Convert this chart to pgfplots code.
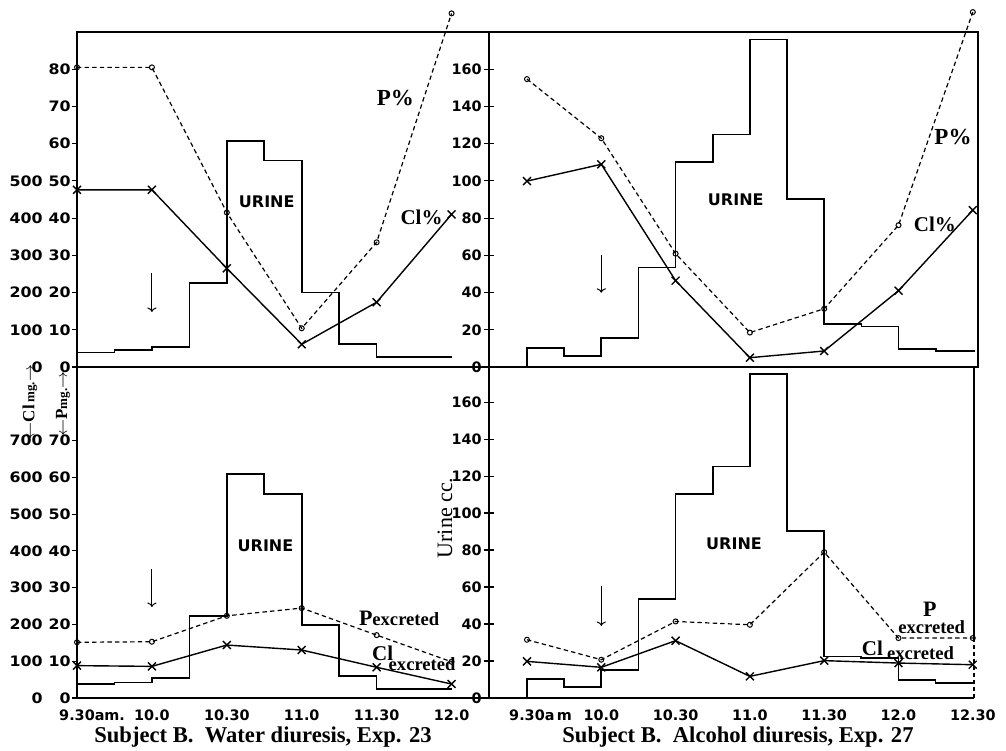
\documentclass[border=0pt]{standalone}
\usepackage{pgfplots}
\pgfplotsset{compat=1.18}
\usepackage{fontspec}
\setmainfont{Liberation Serif}
\newfontfamily\gfont{DejaVu Sans}[FakeStretch=1.1]
\newfontfamily\ufont{DejaVu Sans}
\usetikzlibrary{arrows.meta}

% two columns of left tick labels: outer (Cl) and inner (P)
\newcommand{\lab}[2]{\makebox[0pt][r]{#1}\makebox[14pt][r]{#2}}

\pgfplotsset{
  panel/.style={scale only axis, anchor=south west, clip=false,
    axis line style={line width=0.9pt},
    every tick/.style={black, line width=0.6pt},
    tick label style={font=\ufont\bfseries\fontsize{7.2}{8}\selectfont},
    xtick=\empty, ytick pos=left},
  leftpanel/.style={panel, xmin=0, xmax=165, width=206pt,
    tick align=outside, major tick length=2.5pt,
    yticklabel style={inner sep=0.5pt, font=\gfont\bfseries\fontsize{7.2}{8}\selectfont}},
  rightpanel/.style={panel, xmin=-15.34,
    tick align=center, major tick length=5pt,
    ytick={0,20,...,160},
    yticklabels={0,20,40,60,80,100,120,140,160},
    yticklabel style={inner sep=1pt}},
  cl/.style={black, line width=0.7pt, mark=x, mark size=2.8pt,
    mark options={solid, line width=0.7pt}},
  pp/.style={black, line width=0.6pt, dash pattern=on 2.2pt off 1.6pt,
    mark=o, mark size=1.25pt, mark options={solid, fill=white, line width=0.5pt}},
  ur/.style={black, line width=0.85pt, const plot, mark=none},
  timex/.style={xtick pos=bottom, xtick style={draw=none},
    xticklabel style={anchor=north, inner sep=0pt, yshift=-3pt}},
}
\tikzset{
  down/.style={-{To[length=2.2pt]}, line width=0.5pt},
  big/.style={font=\bfseries\fontsize{11.5}{12}\selectfont},
  mid/.style={font=\bfseries\fontsize{10.5}{11}\selectfont},
  sub/.style={font=\bfseries\fontsize{9.3}{10}\selectfont, inner sep=0pt},
  urn/.style={font=\ufont\bfseries\fontsize{8}{9}\selectfont},
}

\begin{document}
\begin{tikzpicture}
\useasboundingbox (0,0) rectangle (503pt,375pt);

% ---------- top left: water, percentages
\begin{axis}[leftpanel, at={(38.5pt,191.5pt)}, height=167.5pt, ymin=0, ymax=180,
  ytick={0,20,...,160},
  yticklabels={{\lab{0}{0}},{\lab{100}{10}},{\lab{200}{20}},{\lab{300}{30}},
    {\lab{400}{40}},{\lab{500}{50}},{\lab{}{60}},{\lab{}{70}},{\lab{}{80}}}]
\addplot[ur] coordinates {(0,7.8)(15,9.1)(30,10.8)(45,45)(60,121.5)(75,111)
  (90,40)(105,12.2)(120,5.2)(150,5.2)};
\addplot[pp] coordinates {(0,161)(30,161)(60,83)(90,20.8)(120,67)(150,190)};
\addplot[cl] coordinates {(0,95.2)(30,95.2)(60,53)(90,12.2)(120,34.8)(150,82)};
\node[urn] at (axis cs:76,89) {URINE};
\node[big] at (axis cs:127.5,144.6) {P\%};
\node[mid] at (axis cs:138,80.6) {Cl\%};
\draw[down] (axis cs:30,50.5) -- (axis cs:30,29.6);
\end{axis}

% ---------- top right: alcohol, percentages
\begin{axis}[rightpanel, at={(244.5pt,191.5pt)}, width=244.5pt, height=167.5pt,
  xmax=182.1, ymin=0, ymax=180]
\addplot[ur] coordinates {(0,0)(0,10.1)(15,5.9)(30,15.5)(45,53.5)(60,110)(75,125)
  (90,176)(105,90.4)(120,23)(135,21.7)(150,9.5)(165,8.6)(181,8.6)};
\addplot[pp] coordinates {(0,154.7)(30,122.9)(60,60.9)(90,18.5)(120,31.3)(150,76.2)(180,190.7)};
\addplot[cl] coordinates {(0,99.9)(30,108.9)(60,46.4)(90,5)(120,8.6)(150,41)(180,84.3)};
\node[urn] at (axis cs:84.3,89.6) {URINE};
\node[big] at (axis cs:172,123.4) {P\%};
\node[mid] at (axis cs:164.7,76.5) {Cl\%};
\draw[down] (axis cs:30,60.4) -- (axis cs:30,39.9);
\end{axis}

% ---------- bottom left: water, amounts excreted
\begin{axis}[leftpanel, timex, at={(38.5pt,26pt)}, height=165.5pt, ymin=0, ymax=180,
  ytick={0,20,...,140},
  yticklabels={{\lab{0}{0}},{\lab{100}{10}},{\lab{200}{20}},{\lab{300}{30}},
    {\lab{400}{40}},{\lab{500}{50}},{\lab{600}{60}},{\lab{700}{70}}},
  xtick={0,30,...,150},
  xticklabels={9.30\rlap{am.},10.0,10.30,11.0,11.30,12.0}]
\addplot[ur] coordinates {(0,7.6)(15,8.5)(30,10.9)(45,44.7)(60,122)(75,110.9)
  (90,39.8)(105,11.8)(120,4.9)(150,4.9)};
\addplot[pp] coordinates {(0,30.3)(30,30.6)(60,44.7)(90,48.9)(120,34.2)(150,19.7)};
\addplot[cl] coordinates {(0,17.6)(30,17.2)(60,28.8)(90,26.1)(120,16.7)(150,7.6)};
\node[urn] at (axis cs:75.5,83) {URINE};
\node[inner sep=0pt] at (axis cs:129,43.5)
  {\bfseries\fontsize{11}{12}\selectfont P\fontsize{9.3}{10}\selectfont excreted};
\node[mid, inner sep=0pt] at (axis cs:122.4,24.3) {Cl};
\node[sub] at (axis cs:138.2,18.3) {excreted};
\draw[down] (axis cs:30,70) -- (axis cs:30,49.5);
\end{axis}

% ---------- bottom right: alcohol, amounts excreted
\begin{axis}[rightpanel, timex, at={(244.5pt,26pt)}, width=242.5pt, height=165.5pt,
  xmax=180.5, ymin=0, ymax=179,
  axis x line*=bottom, axis y line*=left,
  xtick={0,30,...,180},
  xticklabels={9.30\rlap{a\,m},10.0,10.30,11.0,11.30,12.0,12.30}]
\addplot[ur] coordinates {(0,0)(0,10.3)(15,5.9)(30,15.3)(45,53.5)(60,110.3)(75,125.2)
  (90,175.1)(105,90.4)(120,22.5)(135,21.6)(150,9.6)(165,8.1)(180,8.1)};
\addplot[pp] coordinates {(0,31.5)(30,20.7)(60,41.4)(90,39.6)(120,78.9)(150,32.4)(180,32.4)};
\addplot[cl] coordinates {(0,19.8)(30,16.6)(60,31)(90,11.7)(120,20.2)(150,18.9)(180,18)};
\node[urn] at (axis cs:83.6,83.4) {URINE};
\node[font=\bfseries\fontsize{11}{12}\selectfont, inner sep=0pt] at (axis cs:162.7,48) {P};
\node[sub] at (axis cs:163.4,38.4) {excreted};
\node[mid, inner sep=0pt] at (axis cs:139.5,26.6) {Cl};
\node[sub] at (axis cs:158.9,24.4) {excreted};
\draw[down] (axis cs:30,60.5) -- (axis cs:30,39);
\draw[line width=0.9pt] (axis cs:180.5,179) -- (axis cs:180.5,32.4);
\draw[line width=0.6pt, dash pattern=on 2pt off 1.5pt] (axis cs:180.5,32.4) -- (axis cs:180.5,0);
\end{axis}

% side labels and captions
\node[rotate=90, font=\fontsize{11}{11}\selectfont] at (222.5pt,116pt) {Urine cc.};
\node[rotate=90, font=\bfseries\fontsize{8.5}{9}\selectfont] at (15pt,174pt)
  {$\leftarrow$Cl\,{\fontsize{6.5}{7}\selectfont mg.}$\rightarrow$};
\node[rotate=90, font=\bfseries\fontsize{8.5}{9}\selectfont] at (31.5pt,173pt)
  {$\leftarrow$P{\fontsize{6.5}{7}\selectfont mg.}$\rightarrow$};
\node[font=\bfseries\fontsize{11.3}{12}\selectfont] at (131.5pt,6.5pt)
  {Subject B.\ \ Water diuresis, Exp. 23};
\node[font=\bfseries\fontsize{11.3}{12}\selectfont] at (369pt,6.5pt)
  {Subject B.\ \ Alcohol diuresis, Exp. 27};
\end{tikzpicture}
\end{document}
